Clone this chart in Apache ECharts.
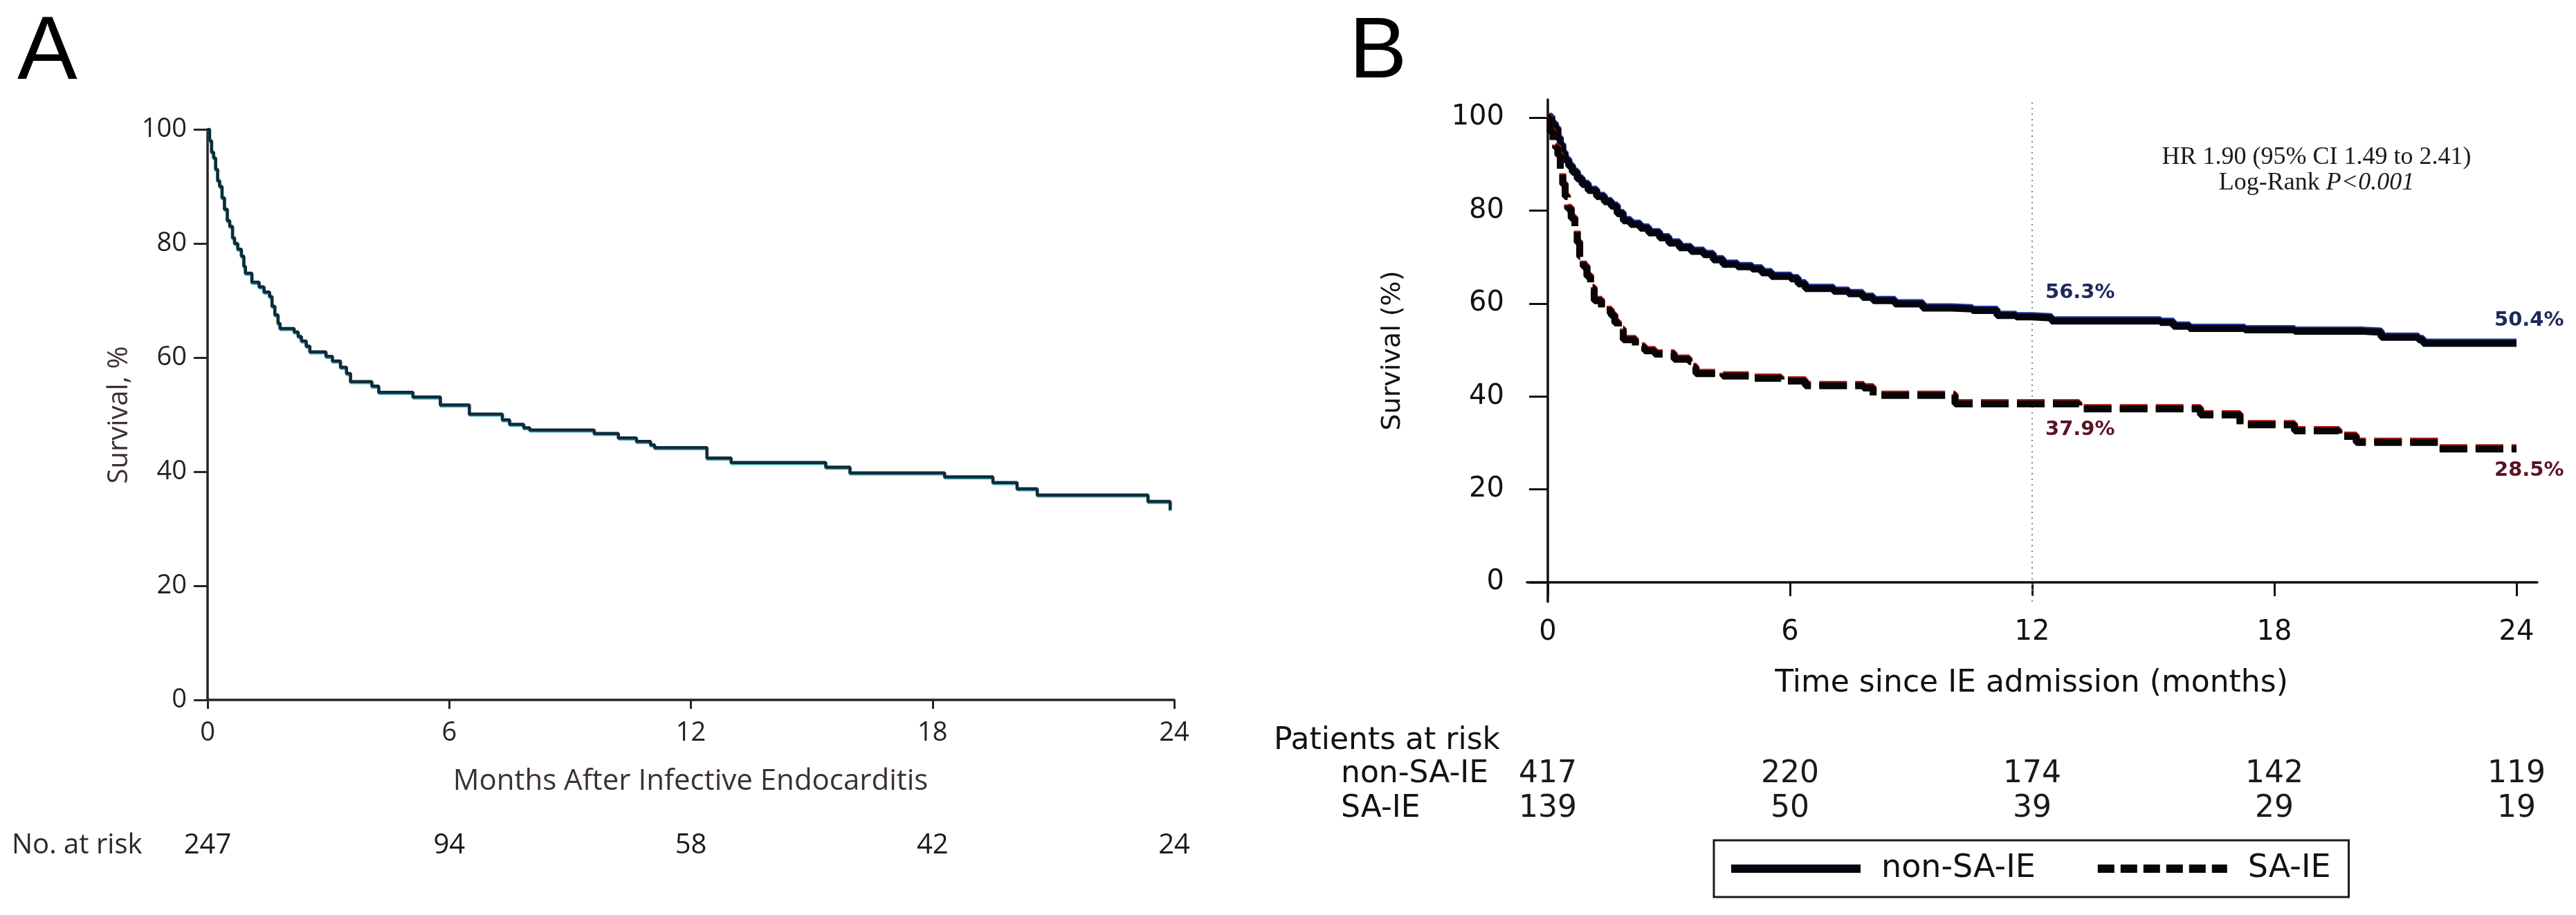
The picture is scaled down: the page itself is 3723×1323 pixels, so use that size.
<!DOCTYPE html>
<html>
<head>
<meta charset="utf-8">
<script src="https://cdn.jsdelivr.net/npm/echarts@6/dist/echarts.min.js"></script>
<style>
	html, body { margin: 0; padding: 0; background: #fff; }
	#chart { width: 3723px; height: 1323px; }
</style>
</head>
<body>
<div id="chart"></div>
<script>
// tick positions shared by both panels
const monthTicks = [0, 6, 12, 18, 24];
const survivalTicks = [0, 20, 40, 60, 80, 100];

// panel A - overall survival, [month, survival %]
const overallSurvival = [
	[0, 100], [0.05, 98], [0.1, 96], [0.15, 95], [0.2, 93], [0.25, 91], [0.3, 90], [0.36, 88],
	[0.42, 86], [0.49, 84], [0.55, 83], [0.62, 81], [0.67, 80], [0.75, 79], [0.84, 77.8], [0.9, 76],
	[0.94, 74.8], [1.1, 73.2], [1.28, 72.4], [1.4, 71.5], [1.54, 70.7], [1.6, 69], [1.67, 67.5],
	[1.75, 66], [1.8, 65.1], [2.15, 64.5], [2.25, 63.7], [2.33, 62.9], [2.45, 62], [2.54, 61],
	[2.94, 60.2], [3.1, 59.4], [3.3, 58.3], [3.45, 57.2], [3.55, 55.8], [4.08, 55], [4.25, 53.9],
	[5.1, 53.1], [5.78, 51.7], [6.5, 50.1], [7.32, 49.1], [7.5, 48.3], [7.85, 47.7], [8.0, 47.3],
	[9.6, 46.7], [10.2, 45.9], [10.65, 45.3], [11.0, 44.7], [11.1, 44.2], [12.4, 42.4], [13.0, 41.6],
	[15.35, 40.8], [15.95, 39.8], [18.3, 39.1], [19.5, 38.1], [20.1, 37.0], [20.6, 35.9],
	[23.35, 34.8], [23.9, 33.3]
];
const riskOverall = [247, 94, 58, 42, 24];

// panel B - non-SA-IE vs SA-IE
const nonSaSurvival = [
	[0, 100], [0.1, 98.5], [0.19, 97.6], [0.25, 95.5], [0.31, 94], [0.37, 92.3], [0.43, 90.8],
	[0.52, 89.5], [0.61, 88.2], [0.73, 86.8], [0.85, 85.6], [1.0, 84.3], [1.21, 83.0], [1.4, 81.9],
	[1.57, 80.9], [1.72, 79.3], [1.87, 77.8], [2.05, 77], [2.29, 76.2], [2.5, 75.2], [2.77, 74.1],
	[3.0, 73], [3.26, 72.0], [3.55, 71.2], [3.86, 70.5], [4.1, 69.4], [4.34, 68.4], [4.7, 67.9],
	[5.06, 67.4], [5.3, 66.6], [5.54, 65.8], [6.02, 65.3], [6.2, 64.2], [6.38, 63.2], [7.08, 62.6],
	[7.45, 62.1], [7.8, 61.3], [8.06, 60.6], [8.6, 59.9], [9.29, 59.0], [10.0, 58.8], [10.52, 58.5],
	[11.13, 57.4], [11.6, 57.1], [11.99, 56.9], [12.48, 56.2], [15.18, 55.9], [15.5, 55.1],
	[15.9, 54.6], [17.27, 54.3], [18.5, 54.0], [20.2, 53.8], [20.65, 52.7], [21.57, 52.2],
	[21.69, 51.4], [24, 51.4]
];
const saSurvival = [
	[0, 100], [0.06, 97], [0.13, 95], [0.19, 93.5], [0.25, 91.9], [0.31, 88.7], [0.37, 85.6],
	[0.43, 83], [0.49, 80.4], [0.58, 78.3], [0.67, 76.2], [0.73, 73.1], [0.79, 70], [0.88, 67.9],
	[0.97, 65.8], [1.06, 63.2], [1.15, 60.6], [1.33, 58.5], [1.57, 57.4], [1.66, 55.8], [1.75, 54.3],
	[1.87, 52.2], [2.17, 50.6], [2.4, 49.8], [2.65, 49.1], [3.13, 48.0], [3.5, 47.5], [3.6, 46.2],
	[3.67, 44.9], [4.34, 44.4], [5.06, 43.9], [5.78, 43.3], [6.38, 42.3], [7.82, 41.8], [8.06, 40.2],
	[10.09, 38.4], [13.16, 37.3], [16.17, 36.0], [17.15, 33.9], [18.5, 32.6], [19.6, 31.4],
	[20.03, 30.1], [22.06, 28.7], [24, 28.7]
];
const riskNonSa = [417, 220, 174, 142, 119];
const riskSa = [139, 50, 39, 29, 19];
const groupNames = ['non-SA-IE', 'SA-IE'];

const fontA = '"Open Sans", sans-serif';
const fontB = '"DejaVu Sans", sans-serif';

function riskAxis(grid, counts, margin, font, size, min, max) {
	return {
		type: 'value', gridIndex: grid, min: min, max: max, position: 'bottom',
		axisLine: { show: false }, axisTick: { show: false }, splitLine: { show: false },
		axisLabel: {
			customValues: monthTicks, margin: margin, verticalAlign: 'middle',
			fontFamily: font, fontSize: size, color: '#1a1a1a',
			formatter: function(v) { return counts[monthTicks.indexOf(v)]; }
		}
	};
}

function txt(x, y, text, opts) {
	return {
		type: 'text', x: x, y: y, rotation: opts.rotation || 0,
		style: Object.assign({ text: text, verticalAlign: 'middle', align: 'left', fill: '#1a1a1a' }, opts.style)
	};
}

let myChart = echarts.init(document.getElementById('chart'), null, { renderer: 'canvas' });

// panel B range is padded so the axis lines overshoot 0/100 and 0/24 like the original
const bxMin = -30 / (1400 / 24), bxMax = 24 + 30 / (1400 / 24);
const byMin = -28 / 6.72, byMax = 100 + 26 / 6.72;

let option = {
	animation: false,
	backgroundColor: '#fff',
	grid: [
		{ left: 300, top: 187, width: 1397, height: 825, outerBoundsMode: 'none', containLabel: false },
		{ left: 2207, top: 144, width: 1460, height: 726, outerBoundsMode: 'none', containLabel: false }
	],
	xAxis: [
		{
			type: 'value', gridIndex: 0, min: 0, max: 24, interval: 6, position: 'bottom',
			axisLine: { lineStyle: { color: '#2a2326', width: 3.5 } },
			axisTick: { length: 13, lineStyle: { color: '#2a2326', width: 3 } },
			axisLabel: { margin: 48, verticalAlign: 'middle', fontFamily: fontA, fontSize: 38, color: '#222' },
			splitLine: { show: false }
		},
		riskAxis(0, riskOverall, 211, fontA, 40, 0, 24),
		{
			type: 'value', gridIndex: 1, min: bxMin, max: bxMax, position: 'bottom',
			axisLine: { lineStyle: { color: '#111', width: 3.5 } },
			axisTick: { customValues: monthTicks, length: 20, lineStyle: { color: '#111', width: 3 } },
			axisLabel: { customValues: monthTicks, margin: 45, verticalAlign: 'middle', fontFamily: fontB, fontSize: 40, color: '#111' },
			splitLine: { show: false }
		},
		riskAxis(1, riskNonSa, 250, fontB, 44, bxMin, bxMax),
		riskAxis(1, riskSa, 300, fontB, 44, bxMin, bxMax)
	],
	yAxis: [
		{
			type: 'value', gridIndex: 0, min: 0, max: 100, interval: 20,
			axisLine: { show: true, lineStyle: { color: '#2a2326', width: 3.5 } },
			axisTick: { show: true, length: 20, lineStyle: { color: '#2a2326', width: 3 } },
			axisLabel: { margin: 30, fontFamily: fontA, fontSize: 38, color: '#222' },
			splitLine: { show: false }
		},
		{
			type: 'value', gridIndex: 1, min: byMin, max: byMax,
			axisLine: { show: true, lineStyle: { color: '#111', width: 3.5 } },
			axisTick: { show: true, customValues: survivalTicks, length: 27, lineStyle: { color: '#111', width: 3 } },
			axisLabel: { customValues: survivalTicks, margin: 33, fontFamily: fontB, fontSize: 40, color: '#111' },
			splitLine: { show: false }
		}
	],
	legend: {
		data: [
			{ name: groupNames[0], lineStyle: { width: 12 } },
			{ name: groupNames[1], lineStyle: { width: 12, type: [24, 9] } }
		],
		left: 2477, top: 1215,
		orient: 'horizontal',
		padding: [16, 26, 16, 19],
		itemWidth: 187, itemHeight: 12, itemGap: 84,
		itemStyle: { opacity: 0 },
		borderColor: '#1a1a1a', borderWidth: 3,
		textStyle: { fontFamily: fontB, fontSize: 46, color: '#111', padding: [0, 0, 0, 25], lineHeight: 50 }
	},
	series: [
		{
			name: 'Overall', type: 'line', step: 'end', xAxisIndex: 0, yAxisIndex: 0,
			symbol: 'none', data: overallSurvival,
			lineStyle: { color: '#0e2c3a', width: 4.5, shadowColor: '#4aa8b8', shadowOffsetY: 1.5, shadowBlur: 0 }
		},
		{
			name: groupNames[0], type: 'line', step: 'end', xAxisIndex: 2, yAxisIndex: 1,
			symbol: 'none', data: nonSaSurvival, z: 3,
			itemStyle: { color: '#050510' },
			lineStyle: { color: '#050510', width: 10, shadowColor: '#2436a0', shadowOffsetY: -2, shadowBlur: 0 },
			markLine: {
				silent: true, symbol: ['none', 'none'], label: { show: false }, z: 1,
				lineStyle: { color: '#808080', width: 2, type: [2, 6] },
				data: [{ xAxis: 12 }]
			}
		},
		{
			name: groupNames[1], type: 'line', step: 'end', xAxisIndex: 2, yAxisIndex: 1,
			symbol: 'none', data: saSurvival, z: 3,
			itemStyle: { color: '#0a0505' },
			lineStyle: { color: '#0a0505', width: 10, type: [40, 12], shadowColor: '#b01c1c', shadowOffsetY: -2, shadowBlur: 0 }
		}
	],
	graphic: [
		txt(25, 78, 'A', { style: { font: '130px "Liberation Sans", sans-serif', fill: '#000' } }),
		txt(1950, 78, 'B', { style: { font: '125px "Liberation Sans", sans-serif', fill: '#000' } }),

		txt(173, 600, 'Survival, %', { rotation: Math.PI / 2, style: { align: 'center', font: '40px ' + fontA, fill: '#3a3035' } }),
		txt(998, 1130, 'Months After Infective Endocarditis', { style: { align: 'center', font: '42px ' + fontA, fill: '#3a3035' } }),
		txt(17, 1223, 'No. at risk', { style: { font: '40px ' + fontA, fill: '#2a2a2a' } }),

		txt(2013, 507, 'Survival (%)', { rotation: Math.PI / 2, style: { align: 'center', font: '38px ' + fontB, fill: '#111' } }),
		txt(2936, 989, 'Time since IE admission (months)', { style: { align: 'center', font: '44px ' + fontB, fill: '#111' } }),
		txt(1841, 1072, 'Patients at risk', { style: { font: '44px ' + fontB, fill: '#111' } }),
		txt(1938, 1120, groupNames[0], { style: { font: '44px ' + fontB, fill: '#111' } }),
		txt(1938, 1170, groupNames[1], { style: { font: '44px ' + fontB, fill: '#111' } }),

		txt(3348, 228, 'HR 1.90 (95% CI 1.49 to 2.41)', { style: { align: 'center', font: '36px "Liberation Serif", serif', fill: '#1a1a1a' } }),
		txt(3348, 265, 'Log-Rank {i|P<0.001}', { style: {
			align: 'center', font: '36px "Liberation Serif", serif', fill: '#1a1a1a',
			rich: { i: { fontStyle: 'italic', fontSize: 36, fontFamily: '"Liberation Serif", serif', fill: '#1a1a1a' } }
		} }),

		txt(2956, 423, '56.3%', { style: { font: 'bold 29px ' + fontB, fill: '#1c2a5c' } }),
		txt(3605, 463, '50.4%', { style: { font: 'bold 29px ' + fontB, fill: '#1c2a5c' } }),
		txt(2956, 621, '37.9%', { style: { font: 'bold 29px ' + fontB, fill: '#5c1424' } }),
		txt(3605, 680, '28.5%', { style: { font: 'bold 29px ' + fontB, fill: '#5c1424' } })
	]
};

option && myChart.setOption(option);
</script>
</body>
</html>
